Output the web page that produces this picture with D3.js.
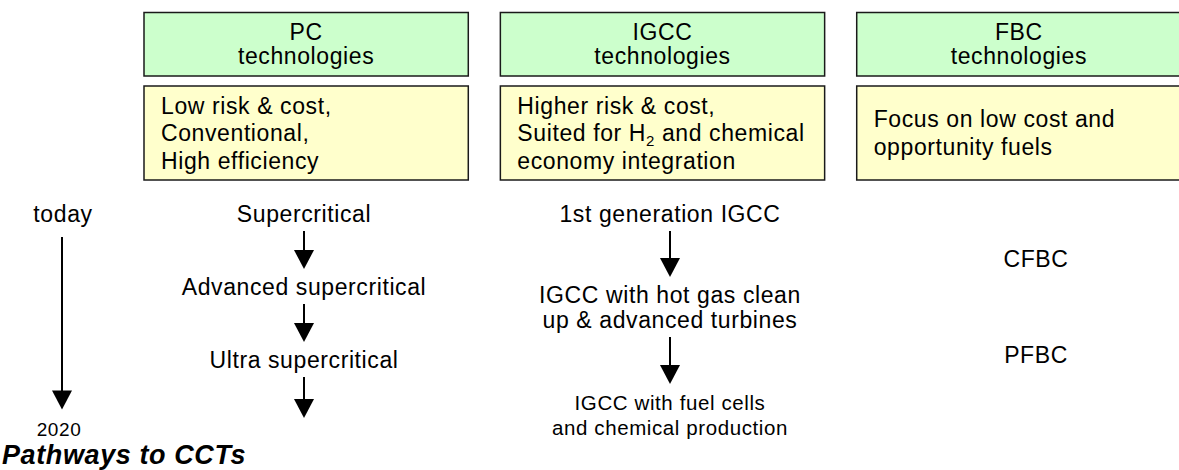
<!DOCTYPE html>
<html>
<head>
<meta charset="utf-8">
<script src="https://cdn.jsdelivr.net/npm/d3@7"></script>
<style>
  body { margin: 0; background: #fff; }
  svg text { font-family: "Liberation Sans", Arial, Helvetica, sans-serif; letter-spacing: 0.6px; fill: #000; }
</style>
</head>
<body>
<svg id="chart" width="1179" height="470"></svg>
<script>
// technology families (one column each)
var columns = ['PC', 'IGCC', 'FBC'];
var columnSubtitle = 'technologies';

// yellow box text, H_{2} marks a subscript
var descriptions = [
  ['Low risk & cost,', 'Conventional,', 'High efficiency'],
  ['Higher risk & cost,', 'Suited for H_{2} and chemical', 'economy integration'],
  ['Focus on low cost and', 'opportunity fuels']
];

// development pathways, stage = 0 today .. 1 in 2020
var pcSteps = [['Supercritical'], ['Advanced supercritical'], ['Ultra supercritical']];
var pcStages = [0, 0.342, 0.684];
var pcExitStage = 1.04;

var igccSteps = [
  ['1st generation IGCC'],
  ['IGCC with hot gas clean', 'up & advanced turbines'],
  ['IGCC with fuel cells', 'and chemical production']
];
var igccStages = [0, 0.379, 0.88];

var fbcSteps = [['CFBC'], ['PFBC']];
var fbcStages = [0.209, 0.659];

var timelineLabels = ['today', '2020'];
var chartTitle = 'Pathways to CCTs';

// styling
var stepFont = { PC: [23, 23, 23], IGCC: [23, 23, 20.5], FBC: [23, 23] };

var svg = d3.select('#chart');

var x = d3.scaleBand().domain(columns).range([144, 1181]).paddingInner(0.09);
var xPath = d3.scalePoint().domain(columns).range([304, 1036]);
var y = d3.scaleLinear().domain([0, 1]).range([222, 435.5]);

function arrow(g, cx, y0, y1) {
  var headH = 19, headW = 20;
  g.append('line')
    .attr('x1', cx).attr('x2', cx)
    .attr('y1', y0).attr('y2', y1 - headH + 1)
    .attr('stroke', '#000').attr('stroke-width', 2);
  g.append('path')
    .attr('d', 'M' + (cx - headW / 2) + ',' + (y1 - headH) + 'L' + (cx + headW / 2) + ',' + (y1 - headH) + 'L' + cx + ',' + y1 + 'Z')
    .attr('fill', '#000');
}

// write a line, turning _{n} into a subscript
function richText(t, str) {
  var parts = str.split(/_\{(.*?)\}/);
  parts.forEach(function(p, i) {
    if (!p) return;
    if (i % 2 === 1) {
      t.append('tspan').attr('dy', 5).style('font-size', '15px').text(p);
    } else {
      t.append('tspan').attr('dy', i > 0 ? -5 : 0).text(p);
    }
  });
}

// header boxes
var cols = svg.selectAll('g.col')
  .data(columns)
  .enter().append('g')
  .attr('class', 'col');

cols.append('rect')
  .attr('x', function(d) { return x(d); })
  .attr('y', 12.5)
  .attr('width', x.bandwidth())
  .attr('height', 63.5)
  .attr('fill', '#ccffcc')
  .attr('stroke', '#1a1a1a')
  .attr('stroke-width', 1.5);

cols.append('text')
  .attr('x', function(d) { return x(d) + x.bandwidth() / 2; })
  .attr('y', 40)
  .attr('text-anchor', 'middle')
  .style('font-size', '23px')
  .text(function(d) { return d; });

cols.append('text')
  .attr('x', function(d) { return x(d) + x.bandwidth() / 2; })
  .attr('y', 64)
  .attr('text-anchor', 'middle')
  .style('font-size', '23px')
  .text(columnSubtitle);

cols.append('rect')
  .attr('x', function(d) { return x(d); })
  .attr('y', 86)
  .attr('width', x.bandwidth())
  .attr('height', 94)
  .attr('fill', '#ffffcc')
  .attr('stroke', '#1a1a1a')
  .attr('stroke-width', 1.5);

cols.each(function(d, i) {
  var g = d3.select(this);
  var lines = descriptions[i];
  var lineH = 27.5;
  var first = 141 - (lines.length - 1) * lineH / 2;
  lines.forEach(function(line, j) {
    var t = g.append('text')
      .attr('x', x(d) + 17)
      .attr('y', first + j * lineH)
      .style('font-size', '23px');
    richText(t, line);
  });
});

// pathways
function drawPath(col, steps, stages, exitStage) {
  var g = svg.append('g').attr('class', 'path-' + col);
  var cx = xPath(col);
  var lineH = 25;
  steps.forEach(function(lines, i) {
    lines.forEach(function(line, j) {
      g.append('text')
        .attr('x', cx)
        .attr('y', y(stages[i]) + j * lineH)
        .attr('text-anchor', 'middle')
        .style('font-size', stepFont[col][i] + 'px')
        .text(line);
    });
  });
  if (exitStage === null) return;
  stages.forEach(function(s, i) {
    var next = i < stages.length - 1 ? stages[i + 1] : exitStage;
    if (next === undefined) return;
    var yStart = y(s) + (steps[i].length - 1) * lineH + 9;
    arrow(g, cx, yStart, y(next) - 26);
  });
}

drawPath('PC', pcSteps, pcStages, pcExitStage);
drawPath('IGCC', igccSteps, igccStages, undefined);
drawPath('FBC', fbcSteps, fbcStages, null);

// timeline on the left
var tl = svg.append('g').attr('class', 'timeline');
tl.append('text')
  .attr('x', 63).attr('y', y(0))
  .attr('text-anchor', 'middle')
  .style('font-size', '23px')
  .text(timelineLabels[0]);
tl.append('text')
  .attr('x', 59).attr('y', y(1))
  .attr('text-anchor', 'middle')
  .style('font-size', '19px')
  .text(timelineLabels[1]);
arrow(tl, 62, y(0) + 15, y(1) - 26);

// title
svg.append('text')
  .attr('x', 2).attr('y', 464)
  .style('font-size', '27px')
  .style('font-weight', 'bold')
  .style('font-style', 'italic')
  .text(chartTitle);
</script>
</body>
</html>
